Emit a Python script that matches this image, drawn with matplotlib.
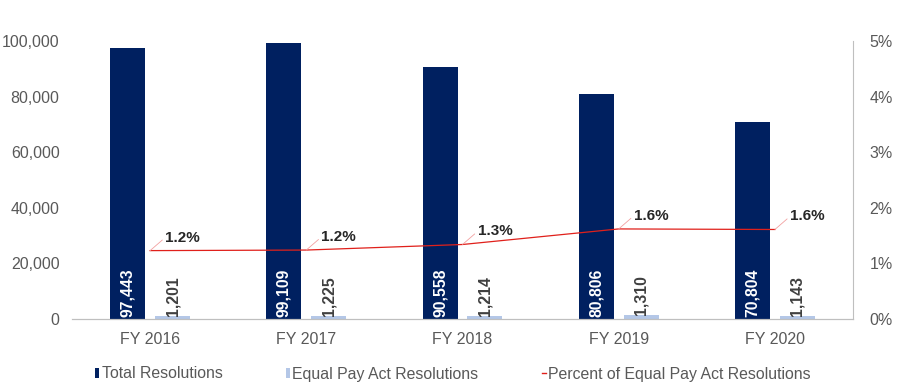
import numpy as np
import matplotlib
matplotlib.use("Agg")
import matplotlib.pyplot as plt
from matplotlib.patches import Patch
from matplotlib.lines import Line2D

plt.rcParams['font.family'] = ['Liberation Sans', 'DejaVu Sans']

years = ["FY 2016", "FY 2017", "FY 2018", "FY 2019", "FY 2020"]
total_res = [97443, 99109, 90558, 80806, 70804]
epa_res = [1201, 1225, 1214, 1310, 1143]
pct_epa = [1.23, 1.24, 1.34, 1.62, 1.61]
pct_labels = ["1.2%", "1.2%", "1.3%", "1.6%", "1.6%"]

navy = "#002060"
light = "#B4C7E7"
gray_txt = "#595959"
spine_c = "#BFBFBF"

fig = plt.figure(figsize=(9, 3.91), dpi=100)
ax = fig.add_axes([72 / 900, 1 - 319 / 391, (853 - 72) / 900, (319 - 41) / 391])
ax2 = ax.twinx()

x = np.arange(len(years))
w = 0.224
off = 0.144
ax.bar(x - off, total_res, w, color=navy, zorder=2)
ax.bar(x + off, epa_res, w, color=light, zorder=2)

for xi, v in zip(x, total_res):
    ax.annotate(f"{v:,}", (xi - off, 0), xytext=(0, 2), textcoords='offset pixels',
                rotation=90, ha='center', va='bottom', color='white',
                fontsize=11.3, fontweight='bold')
for xi, v in zip(x, epa_res):
    ax.annotate(f"{v:,}", (xi + off, v), xytext=(0, 0), textcoords='offset pixels',
                rotation=90, ha='center', va='bottom', color='#404040',
                fontsize=11.3, fontweight='bold')

ax.set_xlim(-0.5, len(years) - 0.5)
ax.set_ylim(0, 100000)
ax.set_yticks(np.arange(0, 100001, 20000))
ax.yaxis.set_major_formatter(matplotlib.ticker.FuncFormatter(lambda v, p: f"{int(v):,}"))
ax.set_xticks(x)
ax.set_xticklabels(years)
ax.tick_params(axis='both', length=0, labelsize=11.5, labelcolor=gray_txt)
ax.tick_params(axis='x', pad=9)
ax.tick_params(axis='y', pad=9)

ax2.plot(x, np.array(pct_epa) / 100, color="#E0201B", lw=0.9, zorder=3)
for xi, v, lab in zip(x, pct_epa, pct_labels):
    ax2.annotate(lab, (xi, v / 100), xytext=(15, 13), textcoords='offset pixels',
                 ha='left', va='center', fontsize=11, fontweight='bold', color='#262626',
                 arrowprops=dict(arrowstyle='-', color='#F2A0A0', lw=0.6,
                                 shrinkA=0, shrinkB=0, relpos=(0, 0.5)))
ax2.set_ylim(0, 0.05)
ax2.set_yticks(np.arange(0, 0.051, 0.01))
ax2.set_yticklabels([f"{i}%" for i in range(6)])
ax2.tick_params(axis='y', length=0, labelsize=11.5, labelcolor=gray_txt, pad=12)

for a in (ax, ax2):
    a.spines['top'].set_visible(False)
    a.spines['left'].set_visible(False)
    a.spines['bottom'].set_color(spine_c)
    a.spines['right'].set_color(spine_c)
ax.spines['right'].set_visible(False)

handles = [
    Patch(facecolor=navy, edgecolor='none'),
    Patch(facecolor=light, edgecolor='none'),
    Line2D([0], [0], color="#E0201B", lw=1),
]
labels = ["Total Resolutions", "Equal Pay Act Resolutions", "Percent of Equal Pay Act Resolutions"]
fig.legend(handles, labels, loc='center', bbox_to_anchor=(453 / 900, 1 - 374 / 391), ncol=3,
           frameon=False, fontsize=11.4, handlelength=0.25, handleheight=0.6, handletextpad=0.15,
           columnspacing=4.0, labelcolor=gray_txt)

fig.savefig("out.png", dpi=100)
